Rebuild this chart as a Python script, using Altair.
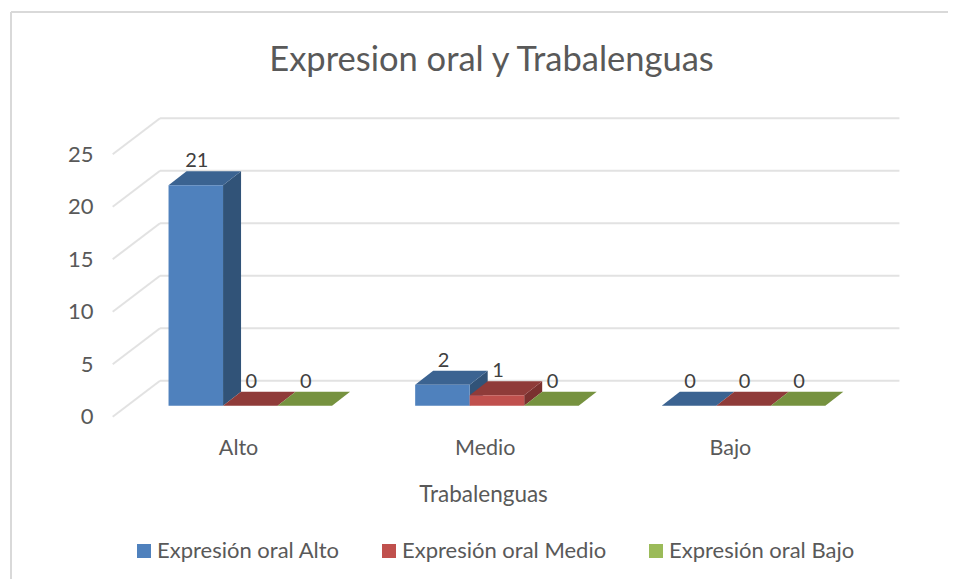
import altair as alt
import pandas as pd

TITLE = "Expresion oral y Trabalenguas"
CATEGORIES = ["Alto", "Medio", "Bajo"]
SERIES = ["Expresión oral Alto", "Expresión oral Medio", "Expresión oral Bajo"]
VALUES_ALTO = [21, 2, 0]
VALUES_MEDIO = [0, 1, 0]
VALUES_BAJO = [0, 0, 0]
Y_TICKS = [0, 5, 10, 15, 20, 25]

FRONT = ["#4F81BD", "#C0504D", "#9BBB59"]
TOP = ["#3B6391", "#8F3B39", "#76923F"]
SIDE = ["#315378", "#7A312F", "#637B35"]
GRID = "#E2E2E2"
FONT = "Lato"

# geometry in data units (category step / value unit)
BAR_W = 54.5 / 246.6
DEPTH_X = 18 / 246.6
DEPTH_V = 14 / 10.5
WALL_BACK_V = 2.381
WALL_FRONT_V = -1.048
WALL_X0 = -0.2264
WALL_X1 = -0.0345
WALL_X2 = 2.9635

rows, top, side = [], [], []
for j, (name, vals) in enumerate(zip(SERIES, [VALUES_ALTO, VALUES_MEDIO, VALUES_BAJO])):
    for i, (cat, v) in enumerate(zip(CATEGORIES, vals)):
        l = i + j * BAR_W
        r = l + BAR_W
        bid = f"{j}-{i}"
        rows.append(dict(series=name, cat=cat, v=v, l=l, r=r, mid=(l + r) / 2))
        top.append(dict(id=bid, y=v, a=l, b=r, c=TOP[j]))
        top.append(dict(id=bid, y=v + DEPTH_V, a=l + DEPTH_X, b=r + DEPTH_X, c=TOP[j]))
        if v > 0:
            side.append(dict(id=bid, x=r, y=v, y0=0, c=SIDE[j]))
            side.append(dict(id=bid, x=r + DEPTH_X, y=v + DEPTH_V, y0=DEPTH_V, c=SIDE[j]))

bars = pd.DataFrame(rows)
top_df = pd.DataFrame(top)
side_df = pd.DataFrame(side)
grid_df = pd.DataFrame(
    [dict(t=t, yb=t + WALL_BACK_V, yf=t + WALL_FRONT_V, x0=WALL_X0, x1=WALL_X1, x2=WALL_X2) for t in Y_TICKS]
)

PX, PY = 100, 100
W, H = 800, 330
xs = alt.Scale(domain=[-0.2779, 2.9658], nice=False, zero=False)
ys = alt.Scale(domain=[-2.314, 29.114], nice=False, zero=False)

label_offsets = [0.282, 1.282, 2.276]
label_expr = f"datum.value < 1 ? '{CATEGORIES[0]}' : datum.value < 2 ? '{CATEGORIES[1]}' : '{CATEGORIES[2]}'"

grid_back = alt.Chart(grid_df).mark_rule(color=GRID, strokeWidth=2).encode(
    x=alt.X("x1:Q", scale=xs, axis=alt.Axis(
        values=label_offsets, labelExpr=label_expr, title="Trabalenguas", domain=False, ticks=False, grid=False,
        labelFont=FONT, labelFontSize=21.5, labelColor="#595959", labelPadding=7, labelAngle=0,
        titleFont=FONT, titleFontSize=22.5, titleColor="#595959", titleFontWeight="normal",
        titleX=383, titleY=53)),
    x2="x2:Q",
    y=alt.Y("yb:Q", scale=ys, axis=alt.Axis(
        values=[t + WALL_BACK_V for t in Y_TICKS], labelExpr=f"round(datum.value - {WALL_BACK_V})",
        title=None, domain=False, ticks=False, grid=False,
        labelFont=FONT, labelFontSize=22, labelColor="#595959", labelPadding=7, labelOffset=36)),
)
grid_left = alt.Chart(grid_df).mark_rule(color=GRID, strokeWidth=2).encode(
    x=alt.X("x0:Q", scale=xs), x2="x1:Q", y=alt.Y("yf:Q", scale=ys), y2="yb:Q"
)
side_layer = alt.Chart(side_df).mark_area(orient="vertical", interpolate="linear").encode(
    x=alt.X("x:Q", scale=xs), y=alt.Y("y:Q", scale=ys), y2="y0:Q",
    detail="id:N", fill=alt.Fill("c:N", scale=None, legend=None),
)
top_layer = alt.Chart(top_df).mark_area(orient="horizontal", interpolate="linear").encode(
    y=alt.Y("y:Q", scale=ys), x=alt.X("a:Q", scale=xs), x2="b:Q",
    detail="id:N", fill=alt.Fill("c:N", scale=None, legend=None),
)
front_layer = alt.Chart(bars).mark_rect().encode(
    x=alt.X("l:Q", scale=xs), x2="r:Q", y=alt.Y("v:Q", scale=ys), y2=alt.datum(0),
    color=alt.Color("series:N", scale=alt.Scale(domain=SERIES, range=FRONT), legend=alt.Legend(
        title=None, orient="none", legendX=33, legendY=440, direction="horizontal", columns=3,
        symbolType="square", symbolSize=196, symbolStrokeWidth=0, labelFont=FONT, labelFontSize=22,
        labelColor="#595959", labelOffset=2, columnPadding=38, labelLimit=300)),
)
labels = alt.Chart(bars).mark_text(font=FONT, fontSize=20, color="#404040", baseline="middle", dx=1, dy=-24).encode(
    x=alt.X("mid:Q", scale=xs), y=alt.Y("v:Q", scale=ys), text="v:Q"
)
frame_top = alt.Chart(grid_df.head(1)).mark_rule(color="#D9D9D9", strokeWidth=2).encode(
    x=alt.value(11 - PX), x2=alt.value(948 - PX), y=alt.value(12 - PY)
)
frame_left = alt.Chart(grid_df.head(1)).mark_rule(color="#D9D9D9", strokeWidth=2).encode(
    x=alt.value(11 - PX), y=alt.value(12 - PY), y2=alt.value(579 - PY)
)

chart = alt.layer(
    grid_back, grid_left, side_layer, top_layer, front_layer, labels, frame_top, frame_left
).properties(
    width=W, height=H, background="white",
    padding={"left": PX - 8, "top": PY - 8, "right": 48, "bottom": 149},
    autosize=alt.AutoSizeParams(type="none"),
    title=alt.TitleParams(TITLE, font=FONT, fontSize=34.5, fontWeight="normal", color="#595959",
                          anchor="middle", dx=-8.5, offset=-67),
).configure_view(stroke=None)

chart.save("out.html", embed_options={"renderer": "svg", "actions": False})
